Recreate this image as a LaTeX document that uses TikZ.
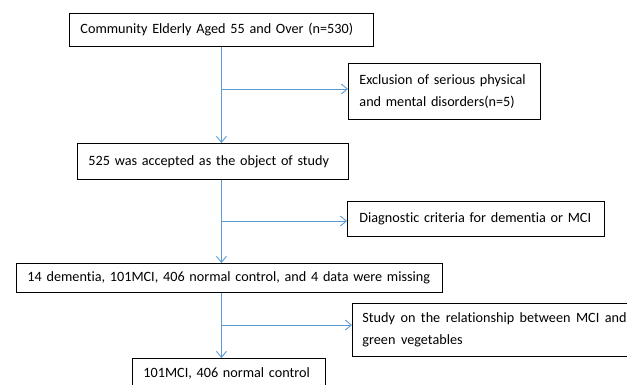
\documentclass[tikz,border=0pt]{standalone}
\usepackage{fontspec}
\setmainfont{Carlito}[Ligatures=NoCommon]
\usetikzlibrary{arrows.meta}
\definecolor{linkblue}{RGB}{91,155,213}
\begin{document}
\begin{tikzpicture}[x=1pt,y=-1pt,
  box/.style={draw=black, line width=0.9pt, anchor=north west, inner xsep=11pt, inner ysep=0pt,
    font=\fontsize{14.2}{22}\selectfont, align=left},
  link/.style={draw=linkblue, line width=0.9pt, -{Straight Barb[length=6pt,width=10pt]}}]
\useasboundingbox (0,0) rectangle (627,384);
\clip (0,0) rectangle (627,384);
\fill[white] (0,0) rectangle (627,384);
\node[box, text width=282pt, minimum height=33pt] (b1) at (69,13) {\mbox{Community Elderly Aged 55 and Over (n=530)}};
\node[box, text width=170pt, minimum height=56pt] (ex) at (348,63) {\mbox{Exclusion of serious physical}\\\mbox{and mental disorders(n=5)}};
\node[box, text width=249pt, minimum height=36pt] (b2) at (77,143) {\mbox{525 was accepted as the object of study}};
\node[box, inner xsep=12pt, text width=233pt, minimum height=35pt] (dg) at (347,201) {\mbox{Diagnostic criteria for dementia or MCI}};
\node[box, text width=404pt, minimum height=29pt] (b3) at (16,263) {\mbox{14 dementia, 101MCI, 406 normal control, and 4 data were missing}};
\node[box, inner xsep=10pt, text width=320pt, minimum height=53pt] (st) at (352,303) {\spaceskip=5.5pt\relax\mbox{Study on the relationship between MCI and}\\\mbox{green vegetables}};
\node[box, text width=171pt, minimum height=30pt] (b4) at (132,358) {\mbox{101MCI, 406 normal control}};
\coordinate (j1) at (221,89);
\coordinate (j2) at (221,221);
\coordinate (j3) at (221,325);
\draw[link] (b1.south) -- (b1.south |- b2.north);
\draw[link] (j1) -- (j1 -| ex.west);
\draw[link] (b1.south |- b2.south) -- (b1.south |- b3.north);
\draw[link] (j2) -- (j2 -| dg.west);
\draw[link] (b1.south |- b3.south) -- (b1.south |- b4.north);
\draw[link] (j3) -- (j3 -| st.west);
\end{tikzpicture}
\end{document}
